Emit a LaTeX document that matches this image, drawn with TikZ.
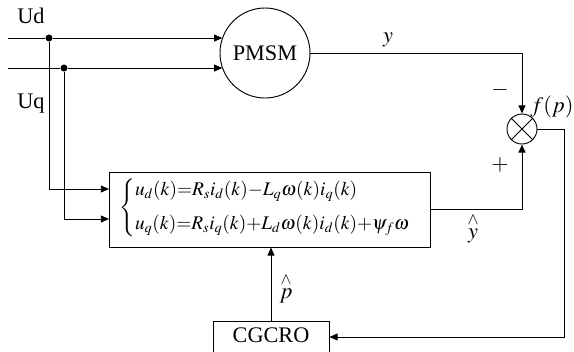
\documentclass[tikz,border=0pt]{standalone}
\usepackage{mathptmx}
\usepackage{fontspec}
\setmainfont{Liberation Serif}
\usetikzlibrary{arrows.meta}

\begin{document}
\begin{tikzpicture}[x=0.03cm, y=-0.03cm, font=\fontsize{19}{23}\selectfont,
    >={Triangle[length=7pt, width=6pt]}, line width=0.8pt]
    \useasboundingbox (0,0) rectangle (574,351);

    % blocks
    \node [draw, circle, minimum size=2.7cm, inner sep=0] (pmsm) at (265,53) {PMSM};
    \node [draw, circle, minimum size=0.9cm, inner sep=0] (sum) at (522,129) {};
    \draw (sum.north west) -- (sum.south east);
    \draw (sum.north east) -- (sum.south west);
    \node [draw, minimum width=9.63cm, minimum height=2.25cm, inner sep=0] (model) at (269.5,209.5) {};
    \node [font=\fontsize{16.5}{20}\selectfont] (eqs) at (265,208)
        {$\left\{\begin{array}{@{}l@{}}
            u_d(k){=}R_s i_d(k){-}L_q\omega(k)i_q(k)\\[9pt]
            u_q(k){=}R_s i_q(k){+}L_d\omega(k)i_d(k){+}\psi_f\omega
        \end{array}\right.$};
    \node [draw, minimum width=3.48cm, minimum height=0.96cm, inner sep=0] (cgcro) at (271,337) {};
    \node at (271,335) {CGCRO};

    % inputs
    \coordinate (ud) at (8,38);
    \coordinate (uq) at (8,68);
    \node [circle, fill, inner sep=0, minimum size=6pt] (dd) at (49,38) {};
    \node [circle, fill, inner sep=0, minimum size=6pt] (dq) at (64,68) {};
    \coordinate (in1) at (109,189);
    \coordinate (in2) at (109,219);

    \draw (ud) -- (dd);
    \draw [->] (dd) -- (dd -| pmsm.160);
    \draw (uq) -- (dq);
    \draw [->] (dq) -- (dq -| pmsm.200);
    \draw [->] (dd) |- (in1);
    \draw [->] (dq) |- (in2);

    % loop
    \draw [->] (pmsm.east) -| (sum.north);
    \draw [->] (model.east) -| (sum.south);
    \coordinate (turn) at (564,129);
    \draw [->] (sum.east) -- (turn) |- (cgcro.east);
    \draw [->] (cgcro.north) -- (cgcro.north |- model.south);

    % labels
    \node at (31,16) {Ud};
    \node at (31,104) {Uq};
    \node at (388,40) {$y$};
    \node at (500,90) {$-$};
    \node at (500,165) {$+$};
    \node at (552,107) {$f(p)$};
    \node at (473,228) {$\stackrel{\wedge}{y}$};
    \node at (286,288) {$\stackrel{\wedge}{p}$};
\end{tikzpicture}
\end{document}
